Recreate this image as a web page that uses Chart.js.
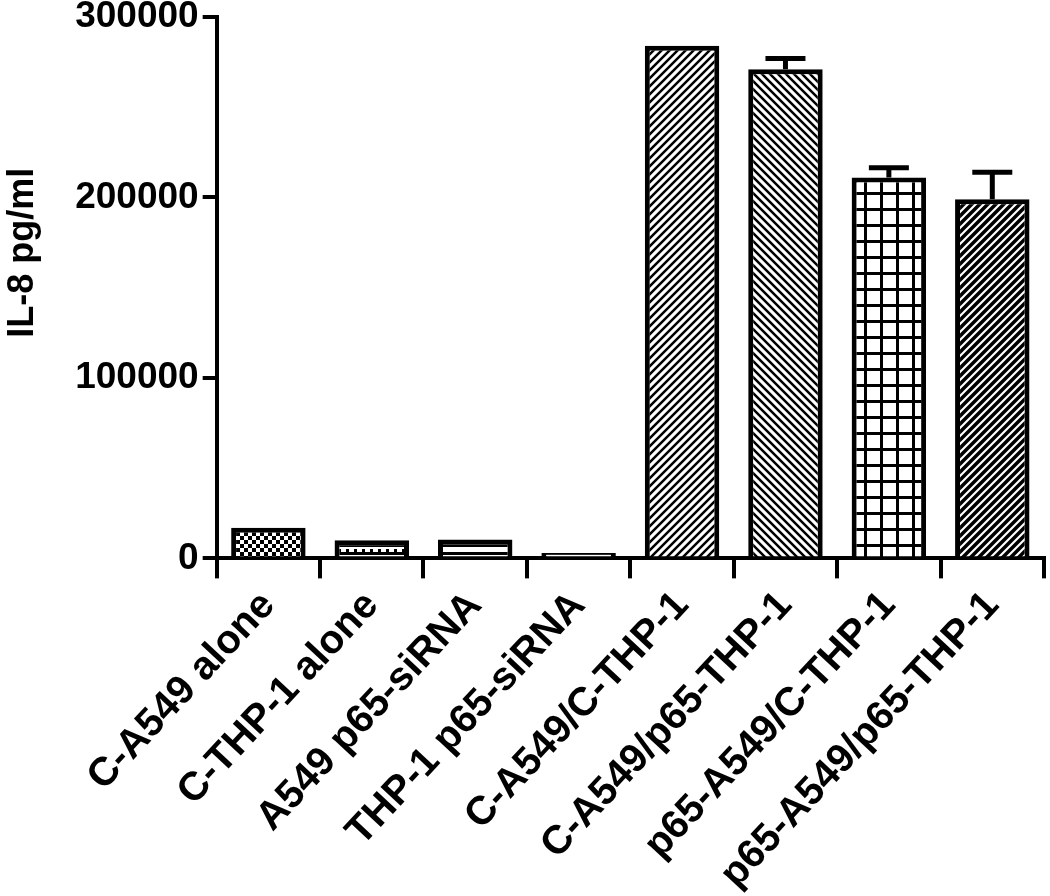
<!DOCTYPE html>
<html>
<head>
<meta charset="utf-8">
<script src="https://cdn.jsdelivr.net/npm/chart.js@4.4.0/dist/chart.umd.min.js"></script>
<style>
  html, body { margin: 0; padding: 0; background: #fff; }
  #wrap { width: 1050px; height: 896px; }
</style>
</head>
<body>
<div id="wrap"><canvas id="il8Chart" width="1050" height="896"></canvas></div>
<script>
// IL-8 values
const groups = ['C-A549 alone', 'C-THP-1 alone', 'A549 p65-siRNA', 'THP-1 p65-siRNA',
    'C-A549/C-THP-1', 'C-A549/p65-THP-1', 'p65-A549/C-THP-1', 'p65-A549/p65-THP-1'];
const il8Means = [17000, 10000, 10500, 3000, 284000, 271000, 211000, 199000];
const il8Errors = [0, 0, 0, 0, 0, 6000, 5500, 15000];
const yTicks = [0, 100000, 200000, 300000];

function makePattern(kind) {
    const c = document.createElement('canvas');
    const s = kind === 'grid' ? 16 : 8;
    c.width = s; c.height = s;
    const g = c.getContext('2d');
    g.fillStyle = '#fff';
    g.fillRect(0, 0, s, s);
    g.strokeStyle = '#000';
    g.fillStyle = '#000';
    g.lineWidth = 2;
    if (kind === 'dots') {
        g.fillRect(0, 0, 4, 4);
        g.fillRect(4, 4, 4, 4);
    } else if (kind === 'dash') {
        g.fillRect(0, 0, 8, 3);
        g.fillRect(2, 5, 3, 3);
    } else if (kind === 'horiz') {
        g.fillRect(0, 0, 8, 3);
    } else if (kind === 'fwd' || kind === 'fwdHeavy') {
        g.lineWidth = kind === 'fwd' ? 2.5 : 3.5;
        g.beginPath();
        g.moveTo(0, s); g.lineTo(s, 0);
        g.moveTo(-2, 2); g.lineTo(2, -2);
        g.moveTo(s - 2, s + 2); g.lineTo(s + 2, s - 2);
        g.stroke();
    } else if (kind === 'back') {
        g.lineWidth = 2.5;
        g.beginPath();
        g.moveTo(0, 0); g.lineTo(s, s);
        g.moveTo(s - 2, -2); g.lineTo(s + 2, 2);
        g.moveTo(-2, s - 2); g.lineTo(2, s + 2);
        g.stroke();
    } else if (kind === 'grid') {
        g.lineWidth = 3;
        g.beginPath();
        g.moveTo(0, 1.5); g.lineTo(s, 1.5);
        g.moveTo(1.5, 0); g.lineTo(1.5, s);
        g.stroke();
    }
    return g.createPattern(c, 'repeat');
}

const fills = ['dots', 'dash', 'horiz', 'horiz', 'fwd', 'back', 'grid', 'fwdHeavy'].map(makePattern);

const errorBars = {
    id: 'errorBars',
    afterDatasetsDraw(chart) {
        const ctx = chart.ctx;
        const y = chart.scales.y;
        const meta = chart.getDatasetMeta(0);
        ctx.save();
        ctx.strokeStyle = '#000';
        ctx.lineWidth = 5;
        meta.data.forEach((bar, i) => {
            if (!il8Errors[i]) return;
            const top = y.getPixelForValue(il8Means[i] + il8Errors[i]);
            ctx.beginPath();
            ctx.moveTo(bar.x, bar.y);
            ctx.lineTo(bar.x, top);
            ctx.moveTo(bar.x - 20, top);
            ctx.lineTo(bar.x + 20, top);
            ctx.stroke();
        });
        ctx.restore();
    }
};

Chart.defaults.font.family = '"Liberation Sans", Arial, sans-serif';
Chart.defaults.font.weight = 'bold';
Chart.defaults.color = '#000';

const ctx = document.getElementById('il8Chart').getContext('2d');
new Chart(ctx, {
    type: 'bar',
    data: {
        labels: groups,
        datasets: [{
            data: il8Means,
            backgroundColor: fills,
            borderColor: '#000',
            borderWidth: 5,
            categoryPercentage: 1,
            barPercentage: 0.72
        }]
    },
    options: {
        responsive: false,
        animation: false,
        layout: { padding: { top: 0, right: 6, left: 0, bottom: -6 } },
        plugins: { legend: { display: false }, tooltip: { enabled: false } },
        scales: {
            x: {
                border: { color: '#000', width: 4 },
                grid: { drawOnChartArea: false, color: '#000', lineWidth: 4, tickLength: 20 },
                ticks: { font: { size: 40 }, minRotation: 47, maxRotation: 47, padding: 4 }
            },
            y: {
                min: 0,
                max: 300000,
                afterBuildTicks: axis => { axis.ticks = yTicks.map(v => ({ value: v })); },
                border: { color: '#000', width: 4 },
                grid: { drawOnChartArea: false, color: '#000', lineWidth: 4, tickLength: 14 },
                ticks: { font: { size: 37, lineHeight: 0.7 }, padding: 4, callback: v => String(v) },
                title: {
                    display: true,
                    text: '\u00a0\u00a0\u00a0\u00a0\u00a0\u00a0\u00a0IL-8 pg/ml',
                    font: { size: 36 },
                    padding: { top: 1, bottom: 27 }
                }
            }
        }
    },
    plugins: [errorBars]
});
</script>
</body>
</html>
